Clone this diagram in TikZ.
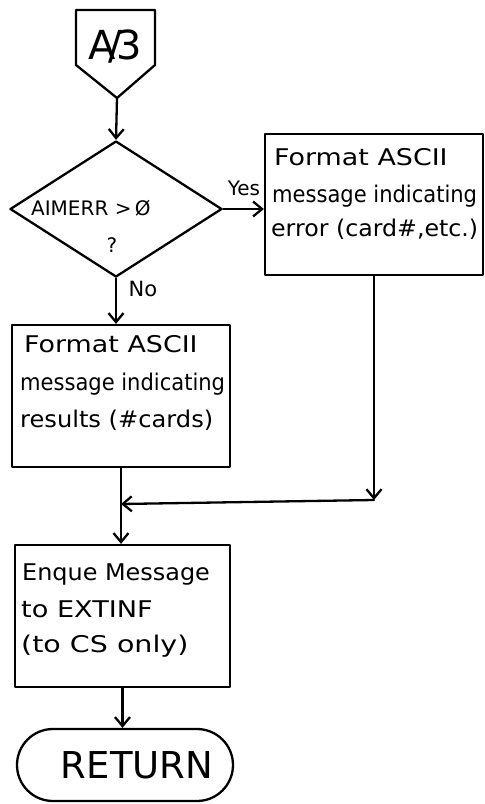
\documentclass[tikz,border=0pt]{standalone}
\usepackage{fontspec}
\usepackage{graphicx}
\setmainfont{DejaVu Sans}
\usetikzlibrary{arrows.meta,shapes.geometric,shapes.misc}

% horizontally stretched line of lettering
\newcommand{\wideline}[2]{\scalebox{#1}[1]{#2}}

\begin{document}
\begin{tikzpicture}[x=1pt,y=-1pt,
  line width=2.3pt, line cap=round, line join=round,
  flow/.style={-{Straight Barb[length=9pt,width=15pt]}},
  proc/.style={draw, rectangle, inner sep=0pt},
  txt/.style={anchor=base west, inner sep=0pt, font=\fontsize{23}{27}\selectfont},
  lbl/.style={inner sep=0pt, font=\fontsize{20}{23}\selectfont},
]
\useasboundingbox (0,0) rectangle (485,804);

% off-page connector A/3
\draw (76,10) -- (155,10) -- (155,65) -- (117,98) -- (76,65) -- cycle;
\node[inner sep=0pt, font=\fontsize{40}{40}\selectfont] (conn) at (115,47) {A\kern-7pt/\kern-6pt3};
\coordinate (conntip) at (117,98);

% decision
\node[draw, diamond, minimum width=212pt, minimum height=136pt, inner sep=0pt] (dec) at (116,209) {};
\node[lbl, anchor=base west] (decq1) at (30,215) {AIMERR >\,Ø};
\node[lbl] (decq2) at (112,245) {?};
\node[lbl] (yes) at (244,188) {Yes};
\node[lbl, font=\fontsize{21}{24}\selectfont] (no) at (143,289) {No};

% error branch
\node[proc, minimum width=218pt, minimum height=141pt] (errbox) at (374,204.5) {};
\node[txt] (err1) at (273,165) {\wideline{1.17}{Format ASCII}};
\node[txt] (err2) at (271,202) {\wideline{0.915}{message indicating}};
\node[txt] (err3) at (270,236) {\wideline{1.03}{error (card\#,etc.)}};

% result branch
\node[proc, minimum width=218pt, minimum height=142pt] (resbox) at (121,396) {};
\node[txt] (res1) at (23,352) {\wideline{1.17}{Format ASCII}};
\node[txt] (res2) at (19,390) {\wideline{0.915}{message indicating}};
\node[txt] (res3) at (19,427) {\wideline{1.05}{results (\#cards)}};

% enqueue
\node[proc, minimum width=215pt, minimum height=142pt] (enqbox) at (122.5,616) {};
\node[txt] (enq1) at (21,580) {\wideline{1.04}{Enque Message}};
\node[txt] (enq2) at (20,617) {\wideline{1.18}{to EXTINF}};
\node[txt] (enq3) at (20,652) {\wideline{1.24}{(to CS only)}};

% terminal
\node[draw, rounded rectangle, minimum width=216pt, minimum height=72pt, inner sep=0pt,
      font=\fontsize{37}{40}\selectfont] (ret) at (125,765) {\hspace*{24pt}RETURN};

% junction points
\coordinate (mergeR) at (374,500);
\coordinate (mergeL) at (121,504);

% connectors
\draw[flow] (conntip) -- (dec.north);
\draw[flow] (dec.east) -- (errbox.west |- dec.east);
\draw[flow] (dec.south) -- (dec.south |- resbox.north);
\draw[flow] (errbox.south) -- (mergeR);
\draw[flow] (mergeR) -- (mergeL);
\draw (resbox.south) -- (mergeL);
\draw[flow] (mergeL) -- (mergeL |- enqbox.north);
\draw[flow] (enqbox.south) -- (enqbox.south |- ret.north);
\end{tikzpicture}
\end{document}
